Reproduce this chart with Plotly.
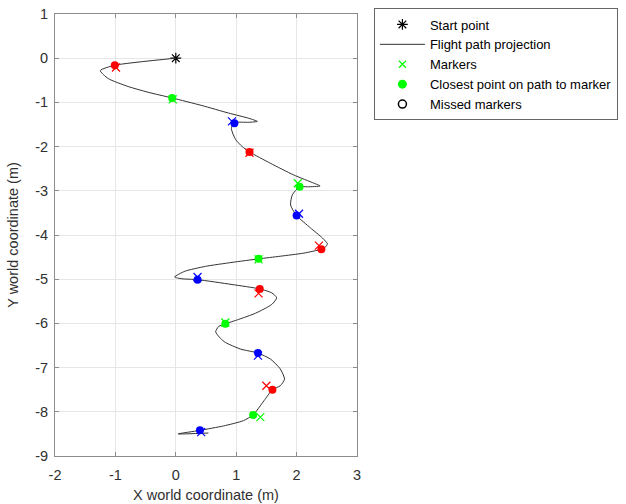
import plotly.graph_objects as go

# Flight path
path_x = [0.00, -1.01, -1.25, -1.12, -0.79, -0.46, -0.06, 0.43, 0.87, 1.21, 1.35, 1.21, 0.97,
          0.92, 0.99, 1.10, 1.22, 1.57, 1.95, 2.29, 2.39, 2.18, 2.05, 1.93, 1.90, 2.00, 2.23,
          2.43, 2.51, 2.48, 2.41, 2.12, 1.73, 1.37, 0.93, 0.49, 0.15, -0.02, 0.10, 0.36, 0.93,
          1.39, 1.59, 1.67, 1.59, 1.32, 1.04, 0.82, 0.71, 0.66, 0.74, 0.82, 1.07, 1.36, 1.57,
          1.73, 1.80, 1.73, 1.60, 1.46, 1.28, 1.12, 0.79, 0.40, 0.04, 0.54]
path_y = [0.00, -0.16, -0.28, -0.46, -0.64, -0.77, -0.90, -1.07, -1.24, -1.36, -1.43, -1.45, -1.46,
          -1.59, -1.84, -2.00, -2.12, -2.38, -2.64, -2.83, -2.89, -2.91, -2.91, -3.09, -3.32, -3.56, -3.84,
          -4.07, -4.20, -4.27, -4.32, -4.41, -4.48, -4.54, -4.62, -4.71, -4.82, -4.95, -4.99, -5.01, -5.12,
          -5.22, -5.31, -5.42, -5.57, -5.77, -5.91, -6.01, -6.07, -6.19, -6.34, -6.43, -6.58, -6.67, -6.81,
          -7.03, -7.26, -7.41, -7.50, -7.75, -8.07, -8.20, -8.32, -8.42, -8.50, -8.48]

start_x = [0.0]
start_y = [0.0]

# Markers (crosses) and closest points (dots), colour cycles red, green, blue
marker_x = [-0.99, -0.05, 0.93, 1.22, 2.02, 2.04, 2.37, 1.37, 0.36, 1.37, 0.82, 1.36, 1.50, 1.40, 0.42]
marker_y = [-0.21, -0.93, -1.43, -2.14, -2.83, -3.52, -4.24, -4.55, -4.95, -5.32, -5.98, -6.73, -7.41, -8.12, -8.46]
closest_x = [-1.01, -0.06, 0.97, 1.22, 2.05, 2.00, 2.41, 1.37, 0.36, 1.39, 0.82, 1.36, 1.60, 1.28, 0.40]
closest_y = [-0.16, -0.90, -1.47, -2.12, -2.91, -3.56, -4.32, -4.54, -5.01, -5.22, -6.01, -6.67, -7.50, -8.07, -8.42]
colors_cycle = ["#ff0000", "#00ff00", "#0000ff"]

x_ticks = [-2, -1, 0, 1, 2, 3]
y_ticks = [1, 0, -1, -2, -3, -4, -5, -6, -7, -8, -9]

FONT = "Liberation Sans, Arial"

fig = go.Figure()

fig.add_trace(go.Scatter(x=start_x, y=start_y, mode="markers", name="Start point",
                         marker=dict(symbol="asterisk-open", size=9, color="black",
                                     line=dict(width=1.2, color="black")),
                         legendrank=1))
fig.add_trace(go.Scatter(x=path_x, y=path_y, mode="lines", name="Flight path projection",
                         line=dict(color="#333333", width=1, shape="spline", smoothing=0.6),
                         legendrank=2))

for ci, col in enumerate(colors_cycle):
    idx = [i for i in range(len(closest_x)) if i % 3 == ci]
    fig.add_trace(go.Scatter(x=[closest_x[i] for i in idx], y=[closest_y[i] for i in idx],
                             mode="markers", name="Closest point on path to marker",
                             marker=dict(symbol="circle", size=8, color=col),
                             showlegend=False, legendgroup="closest"))
for ci, col in enumerate(colors_cycle):
    idx = [i for i in range(len(marker_x)) if i % 3 == ci]
    fig.add_trace(go.Scatter(x=[marker_x[i] for i in idx], y=[marker_y[i] for i in idx],
                             mode="markers", name="Markers",
                             marker=dict(symbol="x-thin-open", size=8, color=col,
                                         line=dict(width=1.2, color=col)),
                             showlegend=False, legendgroup="markers"))

fig.add_trace(go.Scatter(x=[None], y=[None], mode="markers", name="Markers",
                         marker=dict(symbol="x-thin-open", size=7, color="#00ff00",
                                     line=dict(width=1.2, color="#00ff00")),
                         legendrank=3))
fig.add_trace(go.Scatter(x=[None], y=[None], mode="markers", name="Closest point on path to marker",
                         marker=dict(symbol="circle", size=9, color="#00ff00"),
                         legendrank=4))
fig.add_trace(go.Scatter(x=[None], y=[None], mode="markers", name="Missed markers",
                         marker=dict(symbol="circle-open", size=8, color="black",
                                     line=dict(width=1.5, color="black")),
                         legendrank=5))

axis_common = dict(showgrid=True, gridcolor="#e6e6e6", gridwidth=1, zeroline=False,
                   showline=True, linecolor="#8c8c8c", linewidth=1, mirror="ticks",
                   ticks="inside", ticklen=4, tickcolor="#8c8c8c", automargin=False,
                   ticklabeloverflow="allow",
                   tickfont=dict(family=FONT, size=14.5, color="#303030"))

fig.update_layout(
    width=626, height=504,
    paper_bgcolor="white", plot_bgcolor="white",
    margin=dict(l=55, r=269, t=14, b=48, autoexpand=False),
    font=dict(family=FONT, size=14, color="#303030"),
    xaxis=dict(range=[-2, 3], tickvals=x_ticks, ticktext=[str(v) for v in x_ticks],
               ticklabelstandoff=6,
               title=dict(text="X world coordinate (m)", font=dict(size=14.5), standoff=7),
               **axis_common),
    yaxis=dict(range=[-9, 1], tickvals=y_ticks, ticktext=[str(v) for v in y_ticks],
               ticklabelstandoff=3,
               title=dict(text="Y world coordinate (m)", font=dict(size=14.5), standoff=13),
               **axis_common),
    legend=dict(x=1.056, y=1.0125, xanchor="left", yanchor="top",
                bordercolor="#666666", borderwidth=1, bgcolor="white",
                font=dict(family=FONT, size=13, color="black"),
                tracegroupgap=0, itemwidth=45),
    showlegend=True,
)

fig.write_html("out.html", config={"displayModeBar": False},
               post_script="document.body.style.margin='0px';")
